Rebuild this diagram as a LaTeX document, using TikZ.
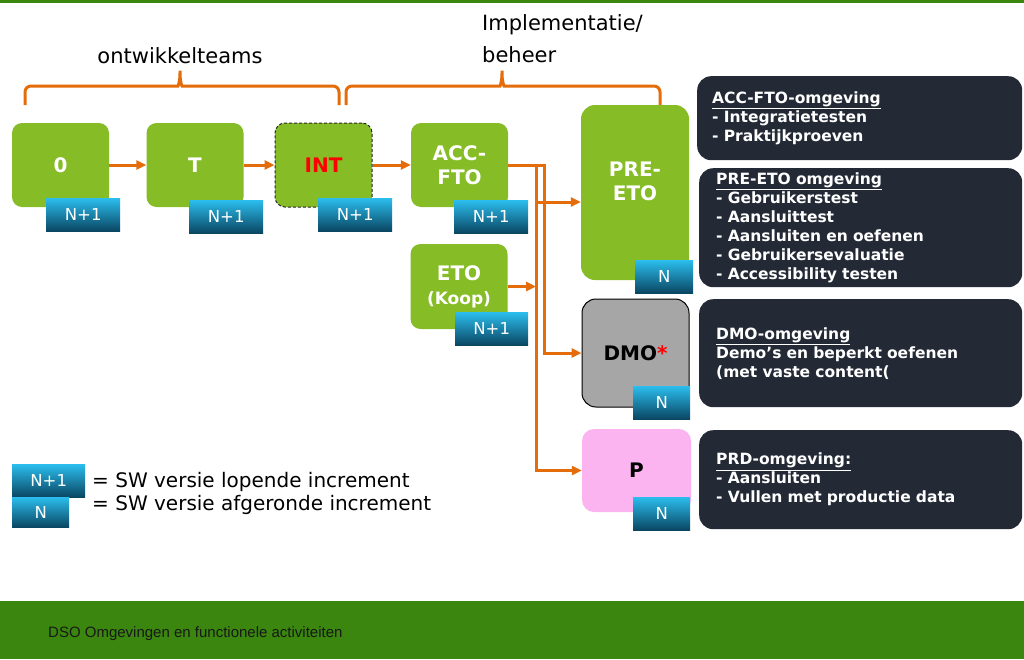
\documentclass[tikz,border=0pt]{standalone}
\usepackage{fontspec}
\setmainfont{DejaVu Sans}
\newfontfamily\footfont{Liberation Sans}
\usetikzlibrary{arrows.meta}
\definecolor{envgreen}{HTML}{86BC25}
\definecolor{flowline}{HTML}{E46C0A}
\definecolor{infodark}{HTML}{232A36}
\definecolor{badgetop}{HTML}{2BBDED}
\definecolor{badgebottom}{HTML}{0A4662}
\definecolor{demogray}{HTML}{A6A6A6}
\definecolor{prodpink}{HTML}{FBB4F0}
\definecolor{footgreen}{HTML}{3A860E}

\begin{document}
\begin{tikzpicture}[x=1pt,y=-1pt]
\useasboundingbox (0,0) rectangle (1024,659);
\fill[footgreen] (0,0) rectangle (1024,3);
\fill[footgreen] (0,601) rectangle (1024,659);
\node[anchor=west,inner sep=0,text=black!90,font=\footfont\fontsize{15}{18}\selectfont] (footer) at (48,634) {DSO Omgevingen en functionele activiteiten};

\tikzset{BraceStyle/.style ={draw=flowline, line width=3pt, rounded corners=6pt}}
\draw[BraceStyle] (25,105) -- (25,86) -- (172,86) .. controls (178,86) and (180,82) .. (180,67)
  .. controls (180,82) and (182,86) .. (188,86) -- (339,86) -- (339,105);
\draw[BraceStyle] (346,105) -- (346,86) -- (494,86) .. controls (500,86) and (502,82) .. (502,67)
  .. controls (502,82) and (504,86) .. (510,86) -- (660,86) -- (660,105);
\node[font=\fontsize{21}{24}\selectfont] (devlabel) at (180,56) {ontwikkelteams};
\node[anchor=north west,inner sep=0,align=left,font=\fontsize{21}{32}\selectfont] (opslabel) at (482,14.5) {Implementatie/\\beheer};

\tikzset{BoxStyle/.style ={fill=envgreen, rounded corners=10pt, minimum width=97pt, minimum height=84pt,
  align=center, text=white, font=\bfseries\fontsize{20}{24}\selectfont}}
\node[BoxStyle] (o) at (60.5,165) {0};
\node[BoxStyle] (t) at (195,165) {T};
\node[BoxStyle, draw=black!85, line width=1pt, dash pattern=on 3pt off 2pt, text=red] (int) at (323.5,165) {INT};
\node[BoxStyle] (acc) at (459.5,165) {ACC-\\FTO};
\node[BoxStyle, minimum height=85pt] (eto) at (459,286.5) {ETO\\{\fontsize{17}{20}\selectfont(Koop)}};
\node[BoxStyle, minimum width=108pt, minimum height=175pt, rounded corners=14pt] (preeto) at (635,192.5) {};
\node[text=white, align=center, font=\bfseries\fontsize{20}{24}\selectfont] (preetotext) at (635,181) {PRE-\\ETO};
\tikzset{BoxStyle/.style ={fill=demogray, draw=black, line width=1pt, rounded corners=14pt, minimum width=107pt,
  minimum height=108pt, text=black, font=\bfseries\fontsize{20}{24}\selectfont}}
\node[BoxStyle] (dmo) at (635.5,353) {DMO\textcolor{red}{*}};
\tikzset{BoxStyle/.style ={fill=prodpink, rounded corners=12pt, minimum width=109pt,
  minimum height=83pt, text=black, font=\bfseries\fontsize{20}{24}\selectfont}}
\node[BoxStyle] (prd) at (636.5,470.5) {P};

\tikzset{BadgeStyle/.style ={top color=badgetop, bottom color=badgebottom, minimum height=33pt, inner sep=0,
  anchor=north west, text=white, font=\fontsize{16.5}{18}\selectfont}}
\node[BadgeStyle, minimum width=74pt] (o-v) at (46,198) {N+1};
\node[BadgeStyle, minimum width=74pt] (t-v) at (189,200) {N+1};
\node[BadgeStyle, minimum width=74pt] (int-v) at (318,198) {N+1};
\node[BadgeStyle, minimum width=74pt] (acc-v) at (454,200) {N+1};
\node[BadgeStyle, minimum width=73pt] (eto-v) at (455,312) {N+1};
\node[BadgeStyle, minimum width=58pt] (preeto-v) at (635,260) {N};
\node[BadgeStyle, minimum width=57pt] (dmo-v) at (633,386) {N};
\node[BadgeStyle, minimum width=57pt] (prd-v) at (633,497) {N};

\tikzset{FlowStyle/.style ={draw=flowline, line width=3pt, -{Triangle[length=10pt,width=9pt]}}}
\coordinate (busa) at (536,165);
\coordinate (busb) at (544,165);
\coordinate (preetojoin) at (536,202);
\draw[FlowStyle] (o) -- (t);
\draw[FlowStyle] (t) -- (int);
\draw[FlowStyle] (int) -- (acc);
\draw[FlowStyle] (acc.east) -- (busb) |- (dmo.west);
\draw[FlowStyle] (busa) |- (prd.west);
\draw[FlowStyle] (preetojoin) -- (preetojoin -| preeto.west);
\draw[FlowStyle] (eto.east) -- (eto.east -| busa);

\tikzset{InfoStyle/.style ={fill=infodark, rounded corners=14pt, anchor=north west, inner xsep=15pt, inner ysep=0pt,
  text=white, align=left, font=\bfseries\fontsize{15.5}{19}\selectfont}}
\node[InfoStyle, text width=295pt, minimum height=84pt] (accinfo) at (697,76)
  {\underline{ACC-FTO-omgeving}\\- Integratietesten\\- Praktijkproeven};
\node[InfoStyle, inner xsep=17pt, text width=289pt, minimum height=119pt] (preetoinfo) at (699,168)
  {\underline{PRE-ETO omgeving}\\- Gebruikerstest\\- Aansluittest\\- Aansluiten en oefenen\\- Gebruikersevaluatie\\- Accessibility testen};
\node[InfoStyle, inner xsep=17pt, text width=289pt, minimum height=108pt] (dmoinfo) at (699,299)
  {\underline{DMO-omgeving}\\Demo’s en beperkt oefenen\\(met vaste content(};
\node[InfoStyle, inner xsep=17pt, text width=289pt, minimum height=99pt] (prdinfo) at (699,430)
  {\underline{PRD-omgeving:}\\- Aansluiten\\- Vullen met productie data};

\node[BadgeStyle, minimum width=73pt] (legend-run) at (12,464) {N+1};
\node[BadgeStyle, minimum width=57pt, minimum height=30pt] (legend-done) at (12,497) {N};
\node[anchor=west, inner sep=0, font=\fontsize{20}{24}\selectfont] (legend-runtext) at (92,482) {= SW versie lopende increment};
\node[anchor=west, inner sep=0, font=\fontsize{20}{24}\selectfont] (legend-donetext) at (92,505) {= SW versie afgeronde increment};
\end{tikzpicture}
\end{document}
